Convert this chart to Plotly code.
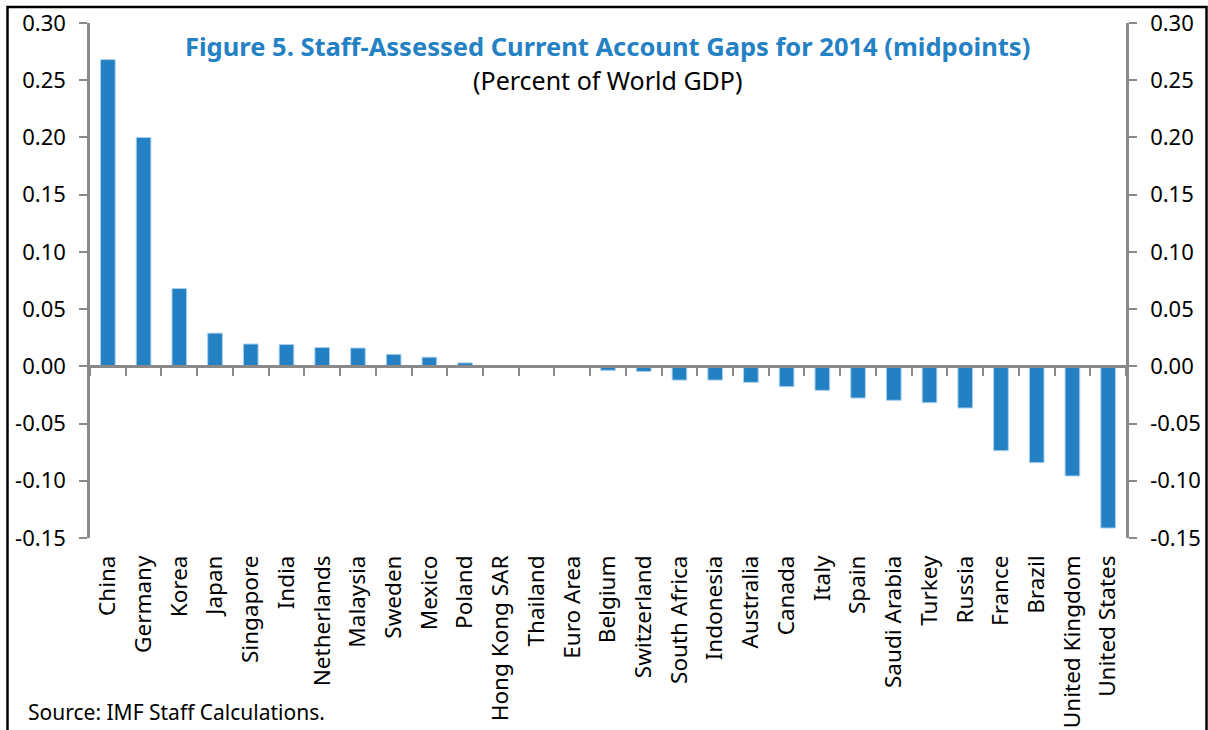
import plotly.graph_objects as go

countries = ["China", "Germany", "Korea", "Japan", "Singapore", "India", "Netherlands",
             "Malaysia", "Sweden", "Mexico", "Poland", "Hong Kong SAR", "Thailand",
             "Euro Area", "Belgium", "Switzerland", "South Africa", "Indonesia",
             "Australia", "Canada", "Italy", "Spain", "Saudi Arabia", "Turkey",
             "Russia", "France", "Brazil", "United Kingdom", "United States"]
gaps = [0.268, 0.200, 0.068, 0.029, 0.0195, 0.019, 0.0165, 0.016, 0.0105, 0.008,
        0.003, 0.0, 0.0, 0.0, -0.0035, -0.0045, -0.012, -0.012, -0.014, -0.0178,
        -0.021, -0.0277, -0.0297, -0.0318, -0.0364, -0.0737, -0.0842, -0.0958, -0.1413]
y_ticks = [0.30, 0.25, 0.20, 0.15, 0.10, 0.05, 0.00, -0.05, -0.10, -0.15]
y_labels = [f"{v:.2f}" for v in y_ticks]

title_text = "Figure 5. Staff-Assessed Current Account Gaps for 2014 (midpoints)"
subtitle_text = "(Percent of World GDP)"
source_text = "Source: IMF Staff Calculations."

W, H = 1208, 730
L, R, T, B = 90, 82, 23, 192
pw, ph = W - L - R, H - T - B

def px(x):
    return (x - L) / pw

def py(y):
    return (H - B - y) / ph

FONT = "Noto Sans"
AX = "#898989"
BLUE = "#2380C2"

fig = go.Figure()
fig.add_trace(go.Bar(x=countries, y=gaps, marker=dict(color=BLUE, line=dict(color="#A9D0EE", width=1)),
                     showlegend=False, hoverinfo="x+y"))
# helper trace for zero-line axis and right axis
fig.add_trace(go.Scatter(x=countries, y=[None] * len(countries), xaxis="x2", yaxis="y2",
                         mode="lines", showlegend=False, hoverinfo="skip"))

fig.update_layout(
    width=W, height=H,
    margin=dict(l=L, r=R, t=T, b=B, autoexpand=False),
    paper_bgcolor="white", plot_bgcolor="white",
    bargap=0.59,
    font=dict(family=FONT, size=20, color="black"),
    xaxis=dict(type="category", showline=False, ticks="", showgrid=False, zeroline=False,
               tickangle=-90, tickfont=dict(size=22.5, family=FONT), ticklabelstandoff=12,
               automargin=False),
    xaxis2=dict(type="category", overlaying="x", matches="x", anchor="free",
                position=(0 - y_ticks[-1]) / (y_ticks[0] - y_ticks[-1]),
                showticklabels=False, showline=True, linecolor=AX, linewidth=2.5,
                ticks="outside", tickson="boundaries", ticklen=8, tickwidth=2, tickcolor=AX,
                showgrid=False, zeroline=False, layer="above traces", automargin=False),
    yaxis=dict(range=[y_ticks[-1], y_ticks[0]], tickvals=y_ticks, ticktext=y_labels,
               showline=True, linecolor=AX, linewidth=2.5, ticks="outside", ticklen=8,
               tickwidth=2, tickcolor=AX, showgrid=False, zeroline=False,
               tickfont=dict(size=22, family=FONT), ticklabelstandoff=9, automargin=False),
    yaxis2=dict(range=[y_ticks[-1], y_ticks[0]], tickvals=y_ticks, ticktext=y_labels,
                overlaying="y", side="right", anchor="x2", matches="y",
                showline=True, linecolor=AX, linewidth=2.5, ticks="outside", ticklen=8,
                tickwidth=2, tickcolor=AX, showgrid=False, zeroline=False,
                tickfont=dict(size=22, family=FONT), ticklabelstandoff=9, automargin=False),
    shapes=[dict(type="rect", xref="paper", yref="paper",
                 x0=px(7.5), x1=px(1206.5), y0=py(760), y1=py(7),
                 line=dict(color="black", width=2.5), fillcolor="rgba(0,0,0,0)")],
    annotations=[
        dict(text=f"<b>{title_text}</b>", xref="paper", yref="paper", x=px(607), y=py(46),
             showarrow=False, xanchor="center", yanchor="middle",
             font=dict(size=25.5, color="#2381C4", family=FONT)),
        dict(text=subtitle_text, xref="paper", yref="paper", x=px(607), y=py(80),
             showarrow=False, xanchor="center", yanchor="middle",
             font=dict(size=25, color="black", family=FONT)),
        dict(text=source_text, xref="paper", yref="paper", x=px(26), y=py(712),
             showarrow=False, xanchor="left", yanchor="middle",
             font=dict(size=21, color="black", family=FONT)),
    ],
)

fig.write_html("out.html", config={"displayModeBar": False},
               post_script="document.body.style.margin='0';document.body.style.overflow='hidden';")
